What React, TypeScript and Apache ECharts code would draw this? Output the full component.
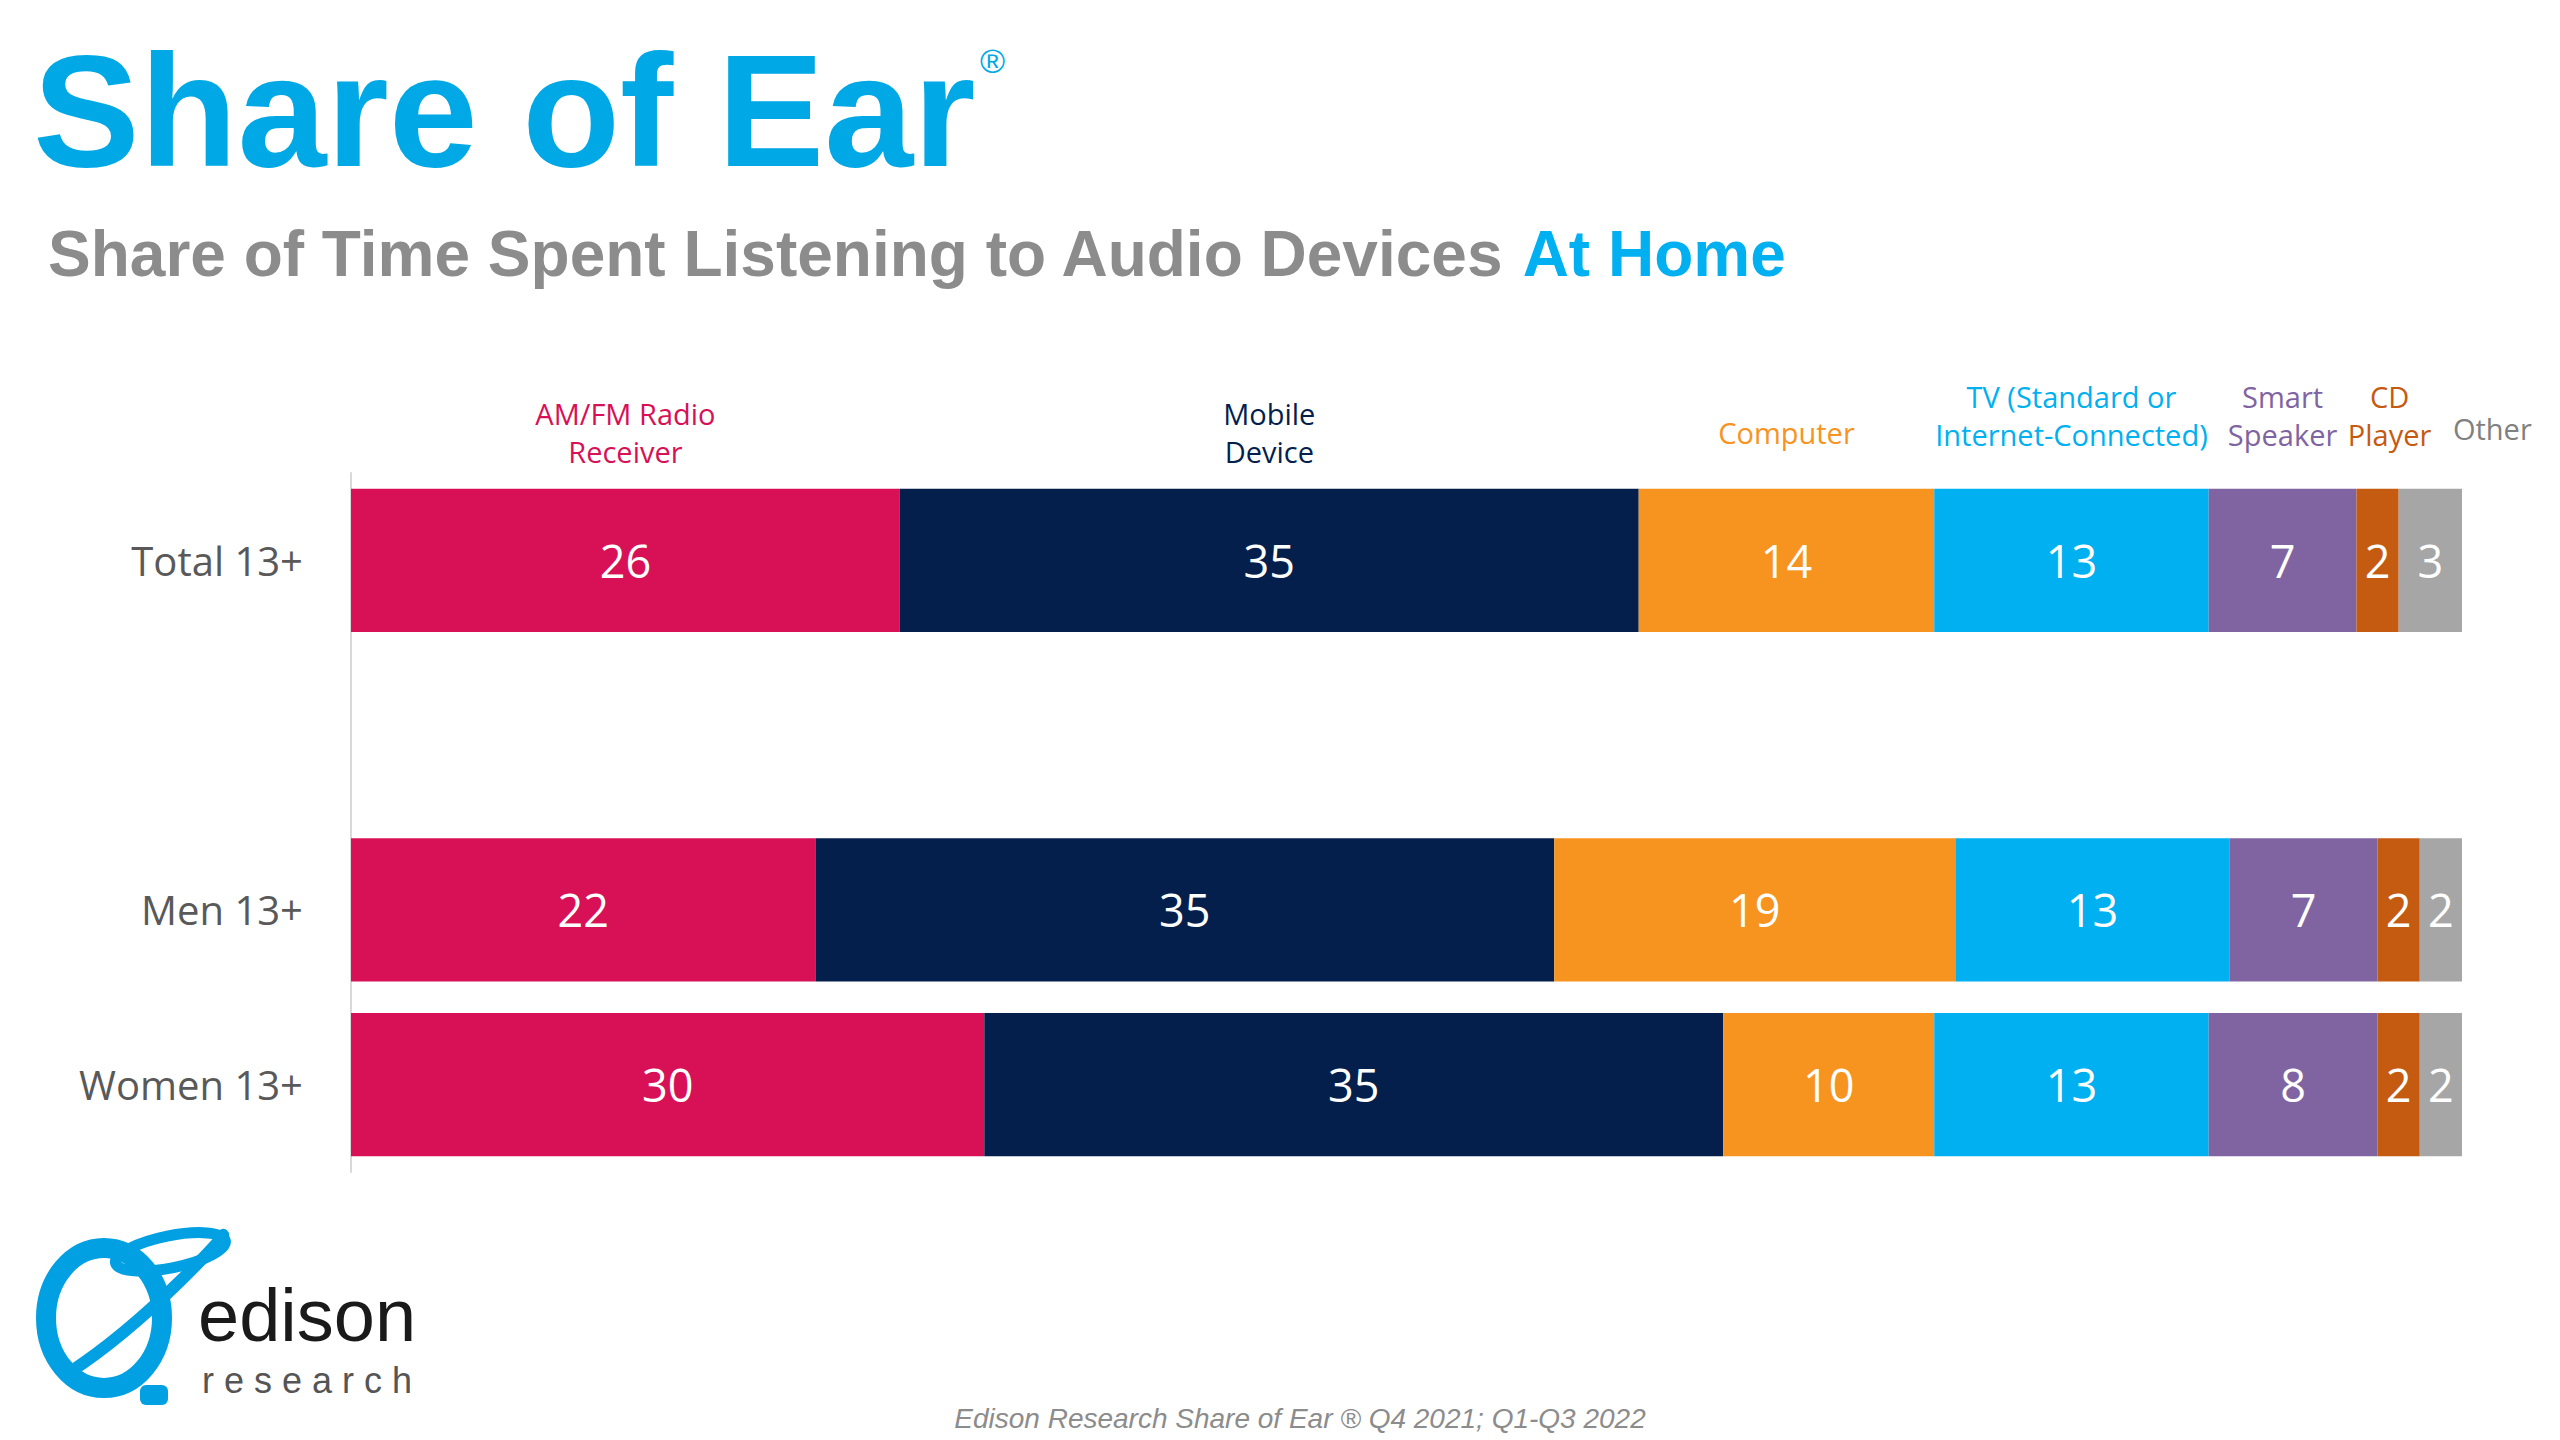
import React, { useEffect, useRef } from 'react';
import * as echarts from 'echarts';

const categories = ['Total 13+', '', 'Men 13+', 'Women 13+'];
const seriesNames = ['AM/FM Radio\nReceiver', 'Mobile\nDevice', 'Computer', 'TV (Standard or\nInternet-Connected)', 'Smart\nSpeaker', 'CD\nPlayer', 'Other'];
const amfm = [26, null, 22, 30];
const mobile = [35, null, 35, 35];
const computer = [14, null, 19, 10];
const tv = [13, null, 13, 13];
const smart = [7, null, 7, 8];
const cd = [2, null, 2, 2];
const other = [3, null, 2, 2];
const values = [amfm, mobile, computer, tv, smart, cd, other];
const colors = ['#d81157', '#051f4d', '#f7941f', '#00b0f0', '#8064a2', '#c55a11', '#a6a6a6'];
const nameColors = ['#d81157', '#051f4d', '#f7941f', '#00b0f0', '#8064a2', '#c55a11', '#808080'];
const nameOffsets = [[0, -128], [0, -128], [0, -128], [0, -145], [0, -145], [12, -145], [62, -132]];

const App: React.FC = () => {
  const chartRef = useRef<HTMLDivElement>(null);

  useEffect(() => {
    document.body.style.margin = '0';
    if (!chartRef.current) return;
    const chart = echarts.init(chartRef.current, null, { renderer: 'svg' });

    let cum = 0;
    const series = values.map((vals, i) => {
      const total = vals[0] as number;
      const mid = cum + total / 2;
      cum += total;
      return {
        name: seriesNames[i],
        type: 'bar',
        stack: 'all',
        barCategoryGap: '18%',
        data: vals,
        itemStyle: { color: colors[i] },
        label: {
          show: true,
          color: '#ffffff',
          fontSize: 45,
          fontFamily: 'Open Sans',
          formatter: (p: any) => (p.value == null ? '' : String(p.value)),
        },
        markPoint: {
          symbol: 'circle',
          symbolSize: 0,
          data: [{ coord: [mid, 'Total 13+'], value: seriesNames[i] }],
          label: {
            show: true,
            formatter: seriesNames[i],
            color: nameColors[i],
            fontSize: 29,
            lineHeight: 38,
            fontFamily: 'Open Sans',
            align: 'center',
            verticalAlign: 'middle',
            offset: nameOffsets[i],
          },
        },
      };
    });

    chart.setOption({
      animation: false,
      grid: { left: 351, right: 98, top: 473, height: 699, containLabel: false },
      xAxis: { type: 'value', min: 0, max: 100, show: false },
      yAxis: {
        type: 'category',
        data: categories,
        inverse: true,
        axisLine: { show: true, lineStyle: { color: '#d9d9d9', width: 2 } },
        axisTick: { show: false },
        axisLabel: { color: '#595959', fontSize: 40, fontFamily: 'Open Sans', margin: 48 },
      },
      series,
      graphic: [
        { type: 'text', left: 33, top: 30, style: { text: 'Share of Ear', fill: '#00a9e6', font: 'bold 160px Arial, Liberation Sans' } },
        { type: 'text', left: 980, top: 44, style: { text: '®', fill: '#00a9e6', font: '34px Arial, Liberation Sans' } },
        { type: 'text', left: 48, top: 222, style: { rich: { g: { fill: '#8c8c8c', font: 'bold 64px Arial, Liberation Sans' }, b: { fill: '#00b0f0', font: 'bold 64px Arial, Liberation Sans' } }, text: '{g|Share of Time Spent Listening to Audio Devices }{b|At Home}' } },
        { type: 'text', x: 1300, y: 1418, style: { text: 'Edison Research Share of Ear ® Q4 2021; Q1-Q3 2022', fill: '#8c8c8c', font: 'italic 28px Arial, Liberation Sans', align: 'center', verticalAlign: 'middle' } },
        { type: 'ellipse', shape: { cx: 104, cy: 1318, rx: 58, ry: 70 }, style: { fill: 'none', stroke: '#00a0e3', lineWidth: 20 } },
        { type: 'bezierCurve', shape: { x1: 70, y1: 1372, cpx1: 150, cpy1: 1320, x2: 222, y2: 1236, cpx2: 235, cpy2: 1225 }, style: { fill: 'none', stroke: '#00a0e3', lineWidth: 12 } },
        { type: 'ellipse', shape: { cx: 170, cy: 1252, rx: 56, ry: 16 }, rotation: 0.2, originX: 170, originY: 1252, style: { fill: 'none', stroke: '#00a0e3', lineWidth: 11 } },
        { type: 'rect', shape: { x: 140, y: 1385, width: 28, height: 20, r: 6 }, style: { fill: '#00a0e3' } },
        { type: 'text', left: 198, top: 1278, style: { text: 'edison', fill: '#1a1a1a', font: '74px Arial, Liberation Sans' } },
        { type: 'text', left: 202, top: 1362, style: { text: 'r e s e a r c h', fill: '#555555', font: '36px Arial, Liberation Sans' } },
      ],
    });

    return () => chart.dispose();
  }, []);

  return <div ref={chartRef} style={{ width: '2560px', height: '1440px' }}></div>;
};

export default App;
